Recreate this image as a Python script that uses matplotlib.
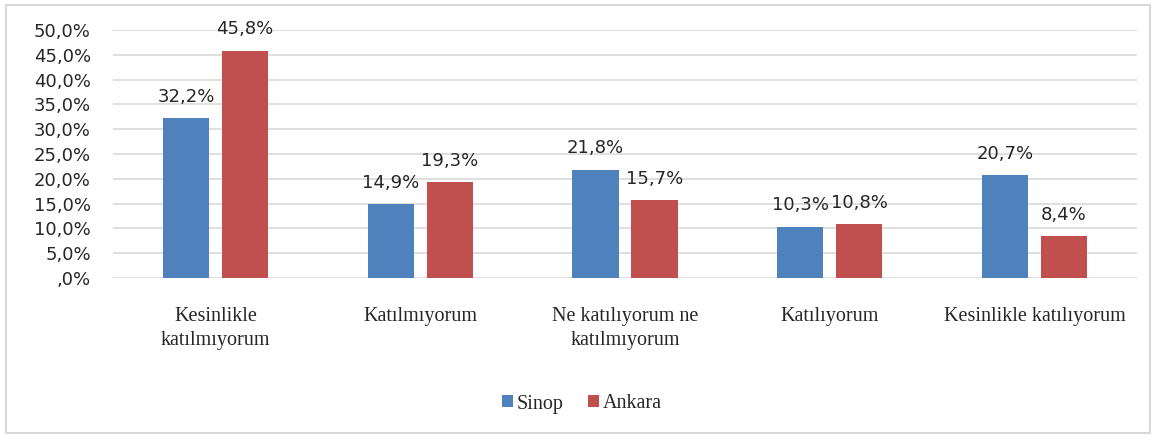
import matplotlib.pyplot as plt
import numpy as np
from matplotlib.patches import Rectangle

categories = ["Kesinlikle\nkatılmıyorum", "Katılmıyorum", "Ne katılıyorum ne\nkatılmıyorum",
              "Katılıyorum", "Kesinlikle katılıyorum"]
sinop = [32.2, 14.9, 21.8, 10.3, 20.7]
ankara = [45.8, 19.3, 15.7, 10.8, 8.4]
series_names = ["Sinop", "Ankara"]
yticks = [0, 5, 10, 15, 20, 25, 30, 35, 40, 45, 50]
ytick_labels = [",0%", "5,0%", "10,0%", "15,0%", "20,0%", "25,0%", "30,0%", "35,0%", "40,0%", "45,0%", "50,0%"]

W, H = 1157, 437
fig = plt.figure(figsize=(W / 100, H / 100), dpi=100)
ax = fig.add_axes([113 / W, 1 - 278 / H, (1137 - 113) / W, (278 - 30) / H])

x = np.arange(len(categories))
bw = 0.225
off = 0.144
c_blue = "#4F81BD"
c_red = "#C0504D"
b1 = ax.bar(x - off, sinop, bw, color=c_blue, label=series_names[0], zorder=3)
b2 = ax.bar(x + off, ankara, bw, color=c_red, label=series_names[1], zorder=3)

num_font = dict(family="DejaVu Sans", fontsize=13, color="#262626")
for bars, vals in ((b1, sinop), (b2, ankara)):
    for r, v in zip(bars, vals):
        ax.annotate(f"{v:.1f}%".replace(".", ","), (r.get_x() + r.get_width() / 2, v),
                    xytext=(0, 9), textcoords="offset points", ha="center", va="bottom", **num_font)

ax.set_xlim(-0.5, len(categories) - 0.5)
ax.set_ylim(0, 50)
ax.set_yticks(yticks)
ax.set_yticklabels(ytick_labels, **num_font)
ax.set_xticks(x)
ax.set_xticklabels(categories, family="Liberation Serif", fontsize=14.5, color="#262626", linespacing=1.35)
ax.tick_params(axis="both", length=0)
ax.tick_params(axis="y", pad=16)
ax.tick_params(axis="x", pad=21)
ax.grid(axis="y", color="#D9D9D9", linewidth=1.2, zorder=0)
for s in ax.spines.values():
    s.set_visible(False)

leg = fig.legend(handles=[b1, b2], labels=series_names, loc="center", bbox_to_anchor=(582 / W, 1 - 404 / H),
                 ncol=2, frameon=False, prop=dict(family="Liberation Serif", size=14.5),
                 handlelength=0.55, handleheight=0.55, handletextpad=0.2, columnspacing=1.2)
for t in leg.get_texts():
    t.set_color("#262626")

fig.patches.append(Rectangle((6 / W, 4 / H), (1150 - 6) / W, (432 - 4) / H, transform=fig.transFigure,
                             fill=False, edgecolor="#D9D9D9", linewidth=1.5))

fig.savefig("out.png", dpi=100)
